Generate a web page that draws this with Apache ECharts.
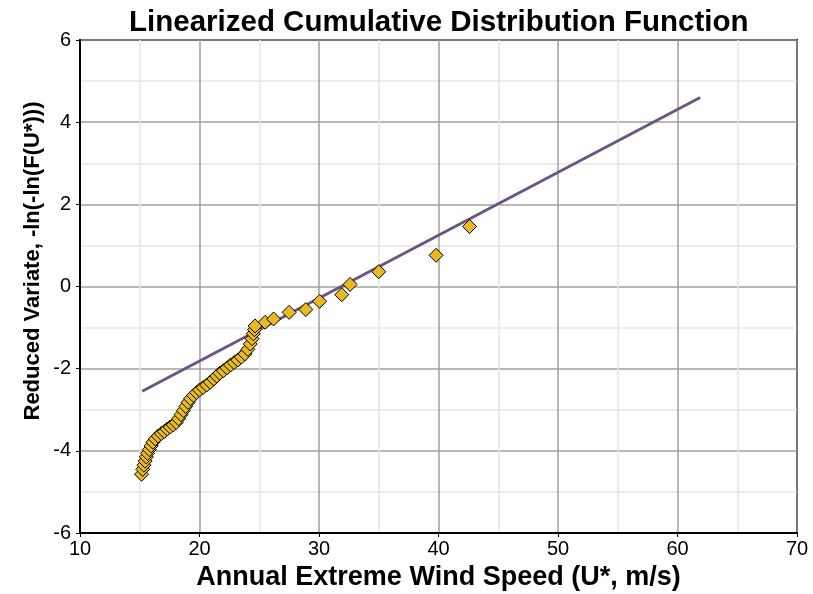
<!DOCTYPE html>
<html>
<head>
    <meta charset="UTF-8">
    <title>Linearized Cumulative Distribution Function</title>
    <script src="https://cdn.jsdelivr.net/npm/echarts@6/dist/echarts.min.js"></script>
</head>
<body style="margin: 0; overflow: hidden; background: #fff;">
<div id="chart" style="width: 813px; height: 594px;"></div>
<script type="text/javascript">
    // observed annual extremes (plotting positions)
    var windSpeed = [
        15.15, 15.25, 15.35, 15.45, 15.55, 15.65, 15.8, 15.95, 16.1, 16.3,
        16.55, 16.8, 17.05, 17.3, 17.55, 17.8, 18.05, 18.25, 18.45, 18.65,
        18.85, 19.05, 19.25, 19.5, 19.75, 20.0, 20.3, 20.6, 20.9, 21.2,
        21.45, 21.7, 22.0, 22.3, 22.6, 22.9, 23.2, 23.5, 23.8, 24.05,
        24.25, 24.4, 24.5, 24.6, 24.65, 25.5, 26.2, 27.5, 28.9, 30.05,
        31.9, 32.6, 35.0, 39.8, 42.6
    ];
    var reducedVariate = [
        -4.57, -4.45, -4.35, -4.25, -4.15, -4.06, -3.97, -3.88, -3.79, -3.71,
        -3.64, -3.58, -3.53, -3.47, -3.42, -3.37, -3.31, -3.22, -3.12, -3.02,
        -2.92, -2.82, -2.73, -2.65, -2.58, -2.52, -2.46, -2.40, -2.33, -2.25,
        -2.18, -2.11, -2.05, -1.98, -1.91, -1.85, -1.79, -1.72, -1.64, -1.53,
        -1.40, -1.27, -1.15, -1.05, -0.96, -0.87, -0.79, -0.63, -0.56, -0.36,
        -0.20, 0.05, 0.36, 0.76, 1.46
    ];
    // fitted line end points
    var fitSpeed = [15.2, 61.9];
    var fitVariate = [-2.55, 4.6];

    var points = windSpeed.map(function (u, i) { return [u, reducedVariate[i]]; });
    var fit = fitSpeed.map(function (u, i) { return [u, fitVariate[i]]; });

    var font = 'Liberation Sans, Arial, sans-serif';
    var chart = echarts.init(document.getElementById('chart'));
    var option = {
        backgroundColor: '#fff',
        animation: false,
        title: {
            text: 'Linearized Cumulative Distribution Function',
            left: 124,
            top: 3,
            textStyle: {color: '#000', fontFamily: font, fontWeight: 'bold', fontSize: 29.5}
        },
        grid: {
            left: 80, right: 16, top: 40, bottom: 61,
            outerBoundsMode: 'none',
            containLabel: false,
            show: true, borderColor: '#000', borderWidth: 2
        },
        xAxis: {
            type: 'value',
            min: 10, max: 70, interval: 10,
            name: 'Annual Extreme Wind Speed (U*, m/s)',
            nameLocation: 'middle',
            nameGap: 31,
            nameTextStyle: {color: '#000', fontFamily: font, fontWeight: 'bold', fontSize: 27},
            axisLine: {onZero: false, lineStyle: {color: '#000', width: 2}},
            axisTick: {show: true, length: 4, lineStyle: {color: '#000'}},
            axisLabel: {color: '#000', fontFamily: font, fontSize: 20, margin: 6},
            splitLine: {lineStyle: {color: '#a0a0a0', width: 1.5}},
            minorTick: {show: false, splitNumber: 2},
            minorSplitLine: {show: true, lineStyle: {color: '#e6e6e6', width: 1.5}}
        },
        yAxis: {
            type: 'value',
            min: -6, max: 6, interval: 2,
            axisLine: {show: true, onZero: false, lineStyle: {color: '#000', width: 2}},
            axisTick: {show: true, length: 4, lineStyle: {color: '#000'}},
            axisLabel: {color: '#000', fontFamily: font, fontSize: 20, margin: 9},
            splitLine: {lineStyle: {color: '#a0a0a0', width: 1.5}},
            minorTick: {show: false, splitNumber: 2},
            minorSplitLine: {show: true, lineStyle: {color: '#e6e6e6', width: 1.5}}
        },
        graphic: [{
            type: 'text',
            x: 33, y: 261,
            rotation: Math.PI / 2,
            style: {
                text: 'Reduced Variate, -ln(-ln(F(U*)))',
                fill: '#000',
                font: 'bold 22px ' + font,
                align: 'center',
                verticalAlign: 'middle'
            }
        }],
        series: [
            {
                name: 'fit',
                type: 'line',
                data: fit,
                symbol: 'none',
                lineStyle: {color: '#6c5585', width: 3},
                z: 2
            },
            {
                name: 'data',
                type: 'scatter',
                data: points,
                symbol: 'diamond',
                symbolSize: 14,
                itemStyle: {color: '#e8b923', borderColor: '#000', borderWidth: 1, opacity: 1},
                z: 3
            }
        ]
    };
    chart.setOption(option);
</script>
</body>
</html>
